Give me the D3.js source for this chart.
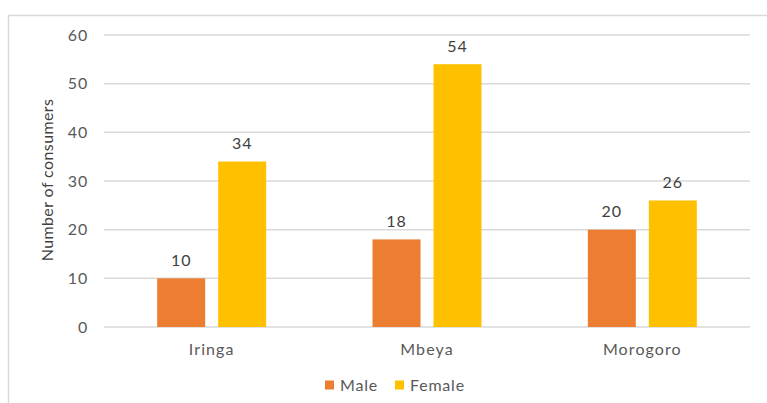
<!DOCTYPE html>
<html><head><meta charset="utf-8">
<script src="https://cdn.jsdelivr.net/npm/d3@7"></script>
<style>body{margin:0;background:#fff}svg{display:block}</style>
</head><body>
<script>
const categories = ["Iringa", "Mbeya", "Morogoro"];
const seriesNames = ["Male", "Female"];
const maleValues = [10, 18, 20];
const femaleValues = [34, 54, 26];
const yTicks = [0, 10, 20, 30, 40, 50, 60];
const colors = ["#ED7D31", "#FFC000"];

(function () {
const W = 767, H = 403;
const font = "Lato, 'Open Sans', sans-serif";
const fs = "16px";
const svg = d3.select("body").append("svg").attr("width", W).attr("height", H);

// outer frame
svg.append("rect").attr("x", 8.5).attr("y", 15.5).attr("width", 800).attr("height", 500)
  .attr("fill", "none").attr("stroke", "#D9D9D9").attr("stroke-width", 1.5);

const pLeft = 104, pRight = 750, pTop = 35, pBottom = 327;
const x = d3.scaleBand().domain(categories).range([pLeft, pRight]);
const y = d3.scaleLinear().domain([0, 60]).range([pBottom, pTop]);

// gridlines
svg.append("g").selectAll("line").data(yTicks).join("line")
  .attr("x1", pLeft).attr("x2", pRight)
  .attr("y1", d => y(d)).attr("y2", d => y(d))
  .attr("stroke", "#D9D9D9").attr("stroke-width", 1.5);

// y axis labels
const yAxis = d3.axisLeft(y).tickValues(yTicks).tickSize(0).tickPadding(0);
const yg = svg.append("g").attr("transform", `translate(${pLeft - 16},0)`).call(yAxis);
yg.select(".domain").remove();
yg.selectAll("text").attr("fill", "#595959").style("font-family", font).style("font-size", fs)
  .style("letter-spacing", "0.8px");

// x axis labels
const xAxis = d3.axisBottom(x).tickSize(0).tickPadding(0);
const xg = svg.append("g").attr("transform", `translate(0,${pBottom})`).call(xAxis);
xg.select(".domain").remove();
xg.selectAll("text").attr("y", 28).attr("dy", null).attr("fill", "#595959")
  .style("font-family", font).style("font-size", fs).style("letter-spacing", "1.1px");

// bars
const data = categories.map((c, i) => ({cat: c, vals: [maleValues[i], femaleValues[i]]}));
const barW = 48, gap = 13;
const groups = svg.append("g").selectAll("g").data(data).join("g")
  .attr("transform", d => `translate(${x(d.cat) + x.bandwidth() / 2},0)`);
groups.selectAll("rect").data(d => d.vals.map((v, j) => ({v, j}))).join("rect")
  .attr("x", d => d.j === 0 ? -(barW + gap / 2) : gap / 2)
  .attr("width", barW)
  .attr("y", d => y(d.v)).attr("height", d => y(0) - y(d.v))
  .attr("fill", d => colors[d.j]);
groups.selectAll("text").data(d => d.vals.map((v, j) => ({v, j}))).join("text")
  .attr("x", d => d.j === 0 ? -(barW / 2 + gap / 2) : barW / 2 + gap / 2)
  .attr("y", d => y(d.v) - 12.5)
  .attr("text-anchor", "middle")
  .attr("fill", "#404040").style("font-family", font).style("font-size", fs)
  .style("letter-spacing", "1px")
  .text(d => d.v);

// y title
svg.append("text").attr("transform", `translate(53,180) rotate(-90)`)
  .attr("text-anchor", "middle").attr("fill", "#404040")
  .style("font-family", font).style("font-size", fs).style("letter-spacing", "0.4px")
  .text("Number of consumers");

// legend
const legendX = [325, 395];
const lg = svg.append("g").selectAll("g").data(seriesNames).join("g")
  .attr("transform", (d, i) => `translate(${legendX[i]},385)`);
lg.append("rect").attr("x", 0).attr("y", -4.5).attr("width", 9).attr("height", 9).attr("fill", (d, i) => colors[i]);
lg.append("text").attr("x", 15).attr("y", 5.5).attr("fill", "#595959")
  .style("font-family", font).style("font-size", fs).style("letter-spacing", "0.8px").text(d => d);
})();
</script>
</body></html>
